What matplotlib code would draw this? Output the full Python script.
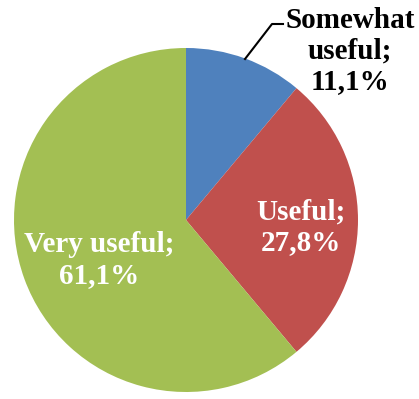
import matplotlib
matplotlib.use('Agg')
import matplotlib.pyplot as plt

# data
labels = ['Somewhat\nuseful;', 'Useful;', 'Very useful;']
values = [11.1, 27.8, 61.1]
colors = ['#4F81BD', '#C0504D', '#A3BF53']

plt.rcParams['font.family'] = ['Liberation Serif', 'DejaVu Serif']

W, H = 419, 399
fig = plt.figure(figsize=(W / 100, H / 100), dpi=100)
cx, cy, r = 186, 220, 172
ax = fig.add_axes([(cx - r) / W, (H - cy - r) / H, 2 * r / W, 2 * r / H])
ax.pie(values, colors=colors, startangle=90, counterclock=False, radius=1,
       wedgeprops=dict(linewidth=0))
ax.set_xlim(-1, 1)
ax.set_ylim(-1, 1)
ax.set_aspect('equal')
ax.axis('off')

def fmt(v):
    return f'{v:.1f}%'.replace('.', ',')

def pos(px, py):
    return (px - cx) / r, (cy - py) / r

fs = 21
ls = 1.15
x, y = pos(350, 51)
ax.text(x, y, labels[0] + '\n' + fmt(values[0]), ha='center', va='center',
        fontsize=fs, fontweight='bold', color='black', linespacing=ls,
        clip_on=False)
x, y = pos(301, 227)
ax.text(x, y, labels[1] + '\n' + fmt(values[1]), ha='center', va='center',
        fontsize=fs, fontweight='bold', color='white', linespacing=ls)
x, y = pos(99, 260)
ax.text(x, y, labels[2] + '\n' + fmt(values[2]), ha='center', va='center',
        fontsize=fs, fontweight='bold', color='white', linespacing=ls)

# leader line
pts = [pos(245, 59), pos(272, 24), pos(283, 24)]
ax.plot([p[0] for p in pts], [p[1] for p in pts], color='black', lw=1.5,
        clip_on=False)

fig.savefig('out.png', dpi=100)
